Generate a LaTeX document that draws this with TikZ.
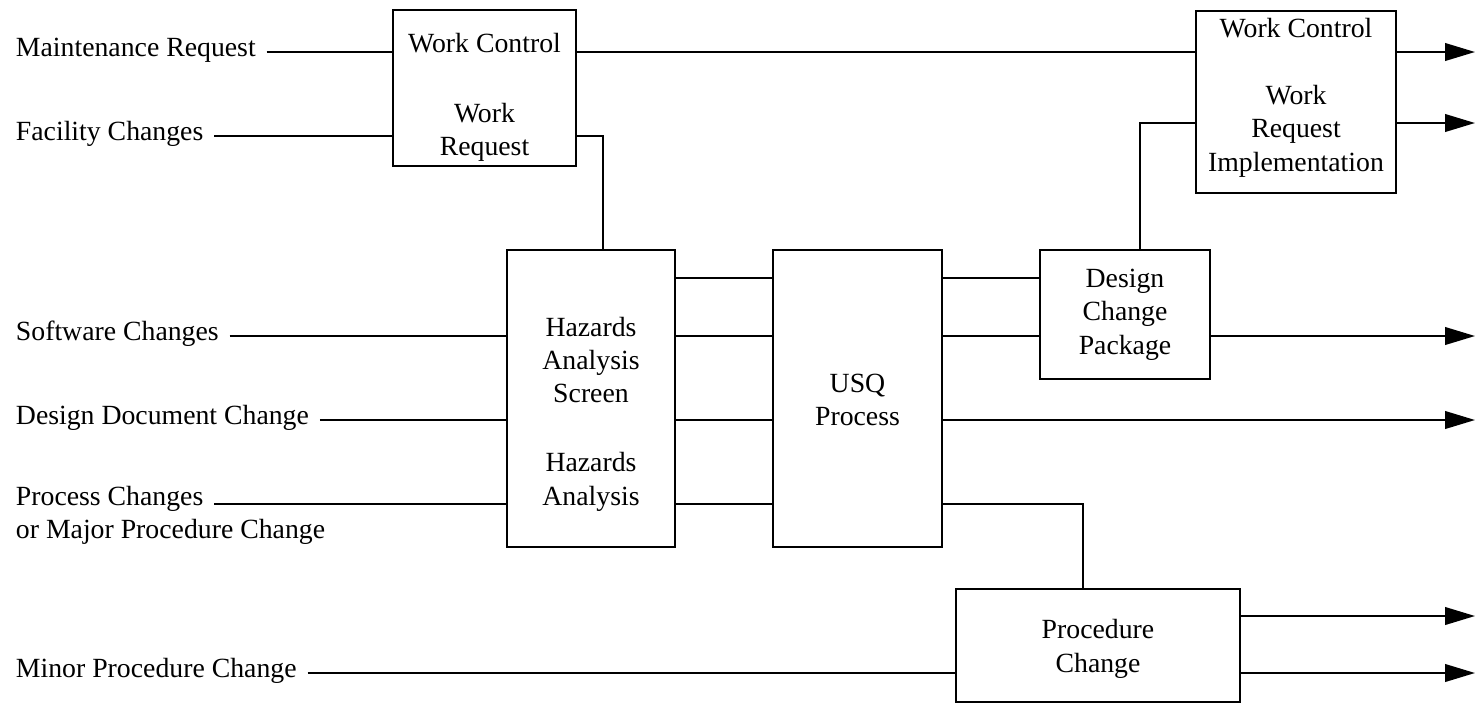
\documentclass[tikz,border=0pt]{standalone}
\usepackage{fontspec}
\setmainfont{Liberation Serif}
\usetikzlibrary{arrows.meta}
\begin{document}
\begin{tikzpicture}[x=0.02cm,y=-0.02cm,line width=1.1pt]
\tikzstyle{boite} = [draw,line width=1.4pt,inner sep=0pt] %cadres
\tikzstyle{texte} = [font=\fontsize{15.8}{19}\selectfont,align=center,inner sep=0pt]
\tikzstyle{etiq} = [font=\fontsize{15.8}{19}\selectfont,anchor=west,inner xsep=0.2cm,inner ysep=0pt,text height=0.68em,text depth=0.22em]
\tikzstyle{sortie} = [-{Triangle[length=17pt,width=10pt]}]
\useasboundingbox (0,0) rectangle (1475,704);
%niveaux des liaisons
\coordinate (n0) at (0,52);
\coordinate (n1) at (0,136);
\coordinate (n2) at (0,123);
\coordinate (n3) at (0,278);
\coordinate (n4) at (0,336);
\coordinate (n5) at (0,420);
\coordinate (n6) at (0,504);
\coordinate (n7) at (0,616);
\coordinate (n8) at (0,673);
\coordinate (fin) at (1475,0);
%cadres
\node[boite,minimum width=3.66cm,minimum height=3.12cm] (wc1) at (484.5,88) {};
\node[boite,minimum width=4cm,minimum height=3.64cm] (wc2) at (1296,102) {};
\node[boite,minimum width=3.36cm,minimum height=5.94cm] (ha) at (591,398.5) {};
\node[boite,minimum width=3.38cm,minimum height=5.94cm] (usq) at (857.5,398.5) {};
\node[boite,minimum width=3.4cm,minimum height=2.58cm] (dcp) at (1125,314.5) {};
\node[boite,minimum width=5.68cm,minimum height=2.26cm] (pcb) at (1098,645.5) {};
%textes des cadres
\node[texte] (twc1) at (484.5,97.5) {Work Control\\[0.73cm]Work\\Request};
\node[texte] (twc2) at (1296,97.5) {Work Control\\[0.67cm]Work\\Request\\Implementation};
\node[texte] (tha) at (591,414) {Hazards\\Analysis\\Screen\\[0.71cm]Hazards\\Analysis};
\node[texte] (tusq) at (857.5,400) {USQ\\Process};
\node[texte] (tdcp) at (1125,314.5) {Design\\Change\\Package};
\node[texte] (tpcb) at (1098,649) {Procedure\\Change};
%entrées
\draw(5,52)node[etiq](mr){Maintenance Request};
\draw(5,136)node[etiq](fc){Facility Changes};
\draw(5,336)node[etiq](sc){Software Changes};
\draw(5,420)node[etiq](dd){Design Document Change};
\draw(5,505)node[etiq,anchor=base west](pcin){Process Changes};
\draw(5,538)node[etiq,anchor=base west](pcin2){or Major Procedure Change};
\draw(5,673)node[etiq](mpc){Minor Procedure Change};
%liaisons d'entrée
\draw (mr) -- (mr -| wc1.west);
\draw (fc) -- (fc -| wc1.west);
\draw (sc) -- (sc -| ha.west);
\draw (dd) -- (dd -| ha.west);
\draw (pcin.east |- n6) -- (ha.west |- n6);
\draw (mpc) -- (mpc -| pcb.west);
%liaisons entre cadres
\draw (wc1.east |- n0) -- (wc2.west |- n0);
\draw (wc1.east |- n1) -| ([xshift=0.24cm]ha.north);
\foreach \n in {n3,n4,n5,n6} \draw (ha.east |- \n) -- (usq.west |- \n);
\foreach \n in {n3,n4} \draw (usq.east |- \n) -- (dcp.west |- \n);
\draw ([xshift=0.3cm]dcp.north) |- (wc2.west |- n2);
\draw (usq.east |- n6) -| ([xshift=-0.3cm]pcb.north);
%sorties
\draw[sortie] (wc2.east |- n0) -- (fin |- n0);
\draw[sortie] (wc2.east |- n2) -- (fin |- n2);
\draw[sortie] (dcp.east |- n4) -- (fin |- n4);
\draw[sortie] (usq.east |- n5) -- (fin |- n5);
\draw[sortie] (pcb.east |- n7) -- (fin |- n7);
\draw[sortie] (pcb.east |- n8) -- (fin |- n8);
\end{tikzpicture}
\end{document}
